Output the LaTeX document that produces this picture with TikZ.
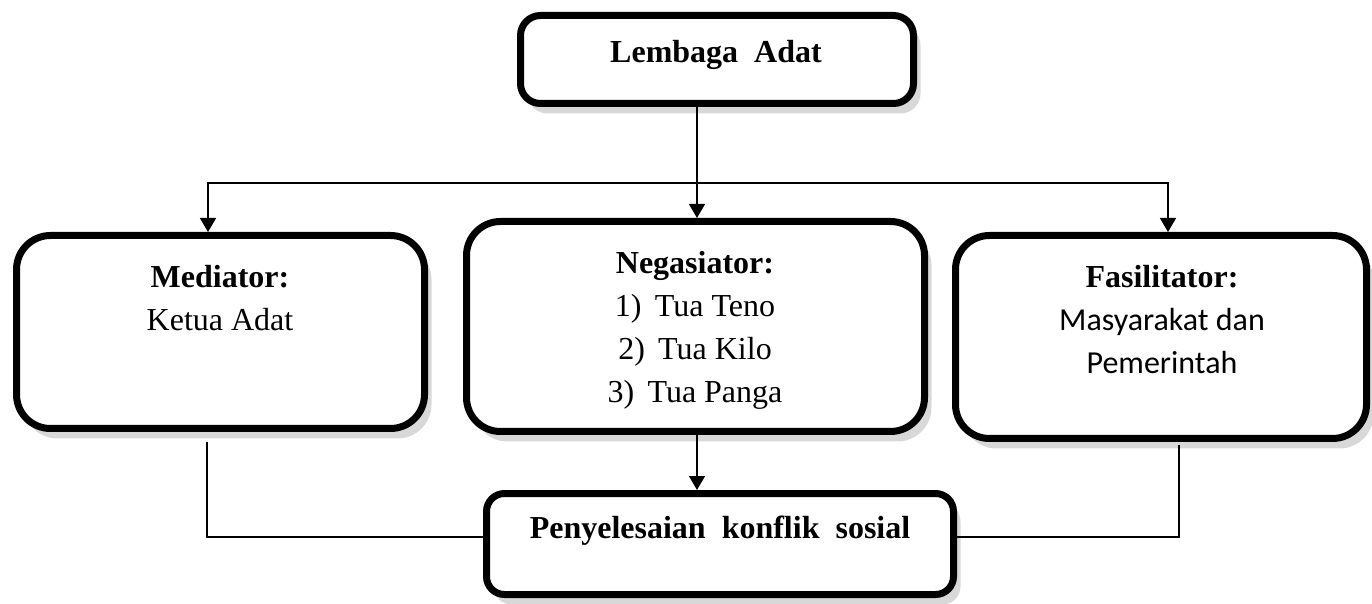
\documentclass[tikz,border=0pt]{standalone}
\usepackage{fontspec}
\usepackage{tikz}
\usetikzlibrary{arrows.meta,positioning,shadows,calc}
\setmainfont{Liberation Serif}
\newfontfamily\calfont{Carlito}

\begin{document}
\begin{tikzpicture}[
    x=0.5pt, y=-0.5pt,
    box/.style={draw=black, line width=3.5pt, fill=white, rounded corners=17pt,
        drop shadow={shadow xshift=3.5pt, shadow yshift=-5pt, fill=black!30}},
    txt/.style={anchor=north, inner sep=0pt, align=center, font=\fontsize{16}{21.5}\selectfont},
    link/.style={line width=0.75pt, draw=black},
    arrow/.style={link, -{Triangle[length=7pt, width=8pt]}}
]
\useasboundingbox (0,0) rectangle (1372,604);
% boxes
\node[box, rounded corners=10pt, minimum width=196.5pt, minimum height=44pt] (lembaga) at (717,59.5) {};
\node[box, minimum width=204pt, minimum height=96.5pt] (mediator) at (220.5,332) {};
\node[box, minimum width=229pt, minimum height=105pt] (negasiator) at (695.5,326.5) {};
\node[box, minimum width=205.5pt, minimum height=101.5pt] (fasilitator) at (1161,337) {};
\node[box, rounded corners=9pt, minimum width=233.5pt, minimum height=50.5pt] (konflik) at (720,544) {};
% texts
\node[txt] (tlembaga) at (716,40) {\textbf{Lembaga\ \ Adat}};
\node[txt] (tmediator) at (220,265) {\textbf{Mediator:}\\Ketua Adat};
\node[txt] (tnegasiator) at (695,251) {\textbf{Negasiator:}\\1)\,\ Tua Teno\\2)\,\ Tua Kilo\\3)\,\ Tua Panga};
\node[txt] (tfasilitator) at (1162,265) {\textbf{Fasilitator:}\\{\calfont Masyarakat dan}\\{\calfont Pemerintah}};
\node[txt] (tkonflik) at (720,516) {\textbf{Penyelesaian\ \ konflik\ \ sosial}};
% connectors
\coordinate (split) at (697,183);
\coordinate (kiri) at (207,537);
\coordinate (kanan) at (1179,537);
\draw[link] (lembaga.south -| split) -- (split);
\draw[arrow] (split) -| (mediator.north -| 208,0);
\draw[arrow] (split) -- (negasiator.north -| split);
\draw[arrow] (split) -| (fasilitator.north -| 1168,0);
\draw[arrow] (negasiator.south -| split) -- (konflik.north -| split);
\draw[link] ($(mediator.south -| kiri)+(0,10)$) -- (kiri) -- (kiri -| konflik.west);
\draw[link] ($(fasilitator.south -| kanan)+(0,3)$) -- (kanan) -- (kanan -| konflik.east);
\end{tikzpicture}
\end{document}
